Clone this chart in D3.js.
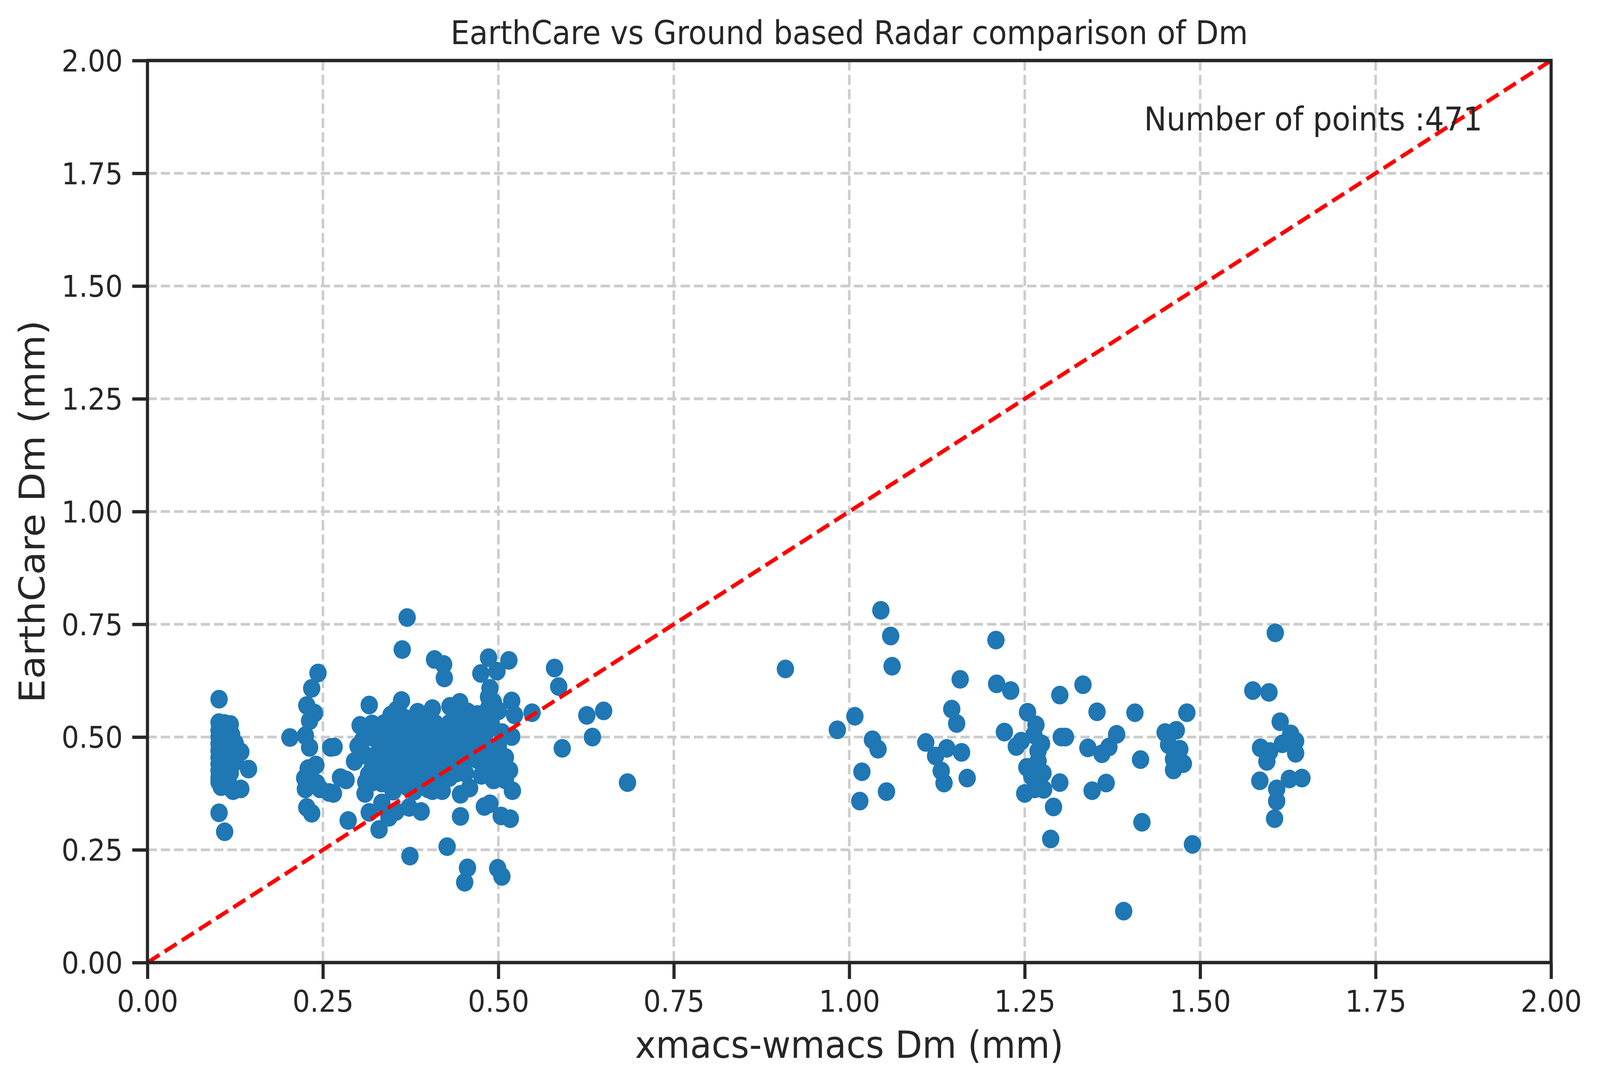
<!DOCTYPE html>
<html>
<head>
<meta charset="utf-8">
<script src="https://cdn.jsdelivr.net/npm/d3@7"></script>
<style>
  html, body { margin: 0; padding: 0; background: #ffffff; width: 100%; height: 100%; overflow: hidden; }
  svg { display: block; width: 100vw; height: 100vh; }
  text { font-family: "DejaVu Sans", sans-serif; fill: #262626; }
</style>
</head>
<body>
<svg id="chart" viewBox="0 0 4416 2776" preserveAspectRatio="none"></svg>
<script>
// ---------------- DATA ----------------
const chartTitle = "EarthCare vs Ground based Radar comparison of Dm";
const xLabel = "xmacs-wmacs Dm (mm)";
const yLabel = "EarthCare Dm (mm)";
const annotation = "Number of points :471";
const xTicks = [0, 0.25, 0.5, 0.75, 1.0, 1.25, 1.5, 1.75, 2.0];
const yTicks = [0, 0.25, 0.5, 0.75, 1.0, 1.25, 1.5, 1.75, 2.0];
const oneToOne = [[0, 0], [2, 2]];

// [xmacs-wmacs Dm, EarthCare Dm] pairs
const clusterLowest = [
  [0.102,0.584],[0.102,0.532],[0.118,0.528],[0.102,0.515],[0.102,0.50],[0.102,0.485],
  [0.102,0.47],[0.102,0.455],[0.102,0.44],[0.102,0.425],[0.102,0.41],[0.102,0.40],
  [0.108,0.52],[0.108,0.49],[0.108,0.46],[0.108,0.43],[0.108,0.395],[0.112,0.51],
  [0.112,0.475],[0.112,0.445],[0.112,0.415],[0.115,0.50],[0.115,0.465],[0.115,0.435],
  [0.115,0.40],[0.118,0.49],[0.118,0.455],[0.118,0.42],[0.12,0.385],[0.122,0.381],
  [0.125,0.486],[0.125,0.445],[0.128,0.47],[0.133,0.467],[0.133,0.385],[0.144,0.429],
  [0.102,0.332],[0.110,0.290],[0.105,0.39],[0.11,0.53],[0.12,0.505],[0.122,0.48],[0.126,0.455]
];
const clusterQuarter = [
  [0.243,0.642],[0.234,0.608],[0.227,0.570],[0.238,0.553],[0.231,0.536],[0.203,0.499],
  [0.225,0.503],[0.231,0.477],[0.261,0.477],[0.240,0.438],[0.229,0.43],[0.224,0.409],
  [0.241,0.398],[0.259,0.377],[0.225,0.385],[0.227,0.344],[0.234,0.331],[0.246,0.385]
];
const clusterThird = [
  [0.370,0.765],[0.363,0.694],[0.362,0.581],[0.316,0.571],[0.303,0.526],[0.320,0.529],
  [0.337,0.53],[0.347,0.549],[0.307,0.494],[0.266,0.478],[0.295,0.446],[0.275,0.410],
  [0.283,0.405],[0.265,0.375],[0.315,0.417],[0.311,0.40],[0.310,0.375],[0.316,0.333],
  [0.286,0.315],[0.330,0.295],[0.334,0.354],[0.344,0.322],[0.354,0.335],[0.374,0.236],
  [0.334,0.398],[0.345,0.398],[0.36,0.40]
];
const clusterFourTenths = [
  [0.409,0.672],[0.422,0.661],[0.423,0.631],[0.475,0.641],[0.406,0.563],[0.392,0.541],
  [0.431,0.568],[0.445,0.577],[0.456,0.556],[0.449,0.525],[0.423,0.494],[0.443,0.50],
  [0.458,0.46],[0.453,0.42],[0.384,0.406],[0.406,0.381],[0.420,0.381],[0.446,0.373],
  [0.459,0.387],[0.373,0.344],[0.390,0.335],[0.446,0.324],[0.427,0.257],[0.456,0.210],
  [0.452,0.178]
];
const clusterHalf = [
  [0.486,0.676],[0.515,0.670],[0.498,0.646],[0.580,0.653],[0.586,0.612],[0.488,0.608],
  [0.486,0.589],[0.493,0.577],[0.519,0.580],[0.486,0.564],[0.500,0.558],[0.523,0.549],
  [0.548,0.554],[0.626,0.548],[0.650,0.558],[0.634,0.500],[0.591,0.475],[0.684,0.399],
  [0.475,0.53],[0.519,0.501],[0.505,0.51],[0.482,0.51],[0.468,0.48],[0.475,0.445],
  [0.510,0.455],[0.516,0.426],[0.476,0.415],[0.493,0.405],[0.51,0.405],[0.520,0.381],
  [0.480,0.346],[0.488,0.352],[0.504,0.325],[0.517,0.319],[0.499,0.209],[0.505,0.191]
];
const clusterDense = [
  [0.32,0.50],[0.33,0.47],[0.33,0.44],[0.34,0.51],[0.34,0.48],[0.34,0.45],[0.34,0.42],
  [0.35,0.53],[0.35,0.50],[0.35,0.47],[0.35,0.44],[0.35,0.41],[0.36,0.55],[0.36,0.52],
  [0.36,0.49],[0.36,0.46],[0.36,0.43],[0.37,0.54],[0.37,0.51],[0.37,0.48],[0.37,0.45],
  [0.37,0.42],[0.37,0.39],[0.38,0.53],[0.38,0.50],[0.38,0.47],[0.38,0.44],[0.38,0.41],
  [0.39,0.52],[0.39,0.49],[0.39,0.46],[0.39,0.43],[0.39,0.40],[0.40,0.54],[0.40,0.51],
  [0.40,0.48],[0.40,0.45],[0.40,0.42],[0.41,0.53],[0.41,0.50],[0.41,0.47],[0.41,0.44],
  [0.41,0.41],[0.42,0.52],[0.42,0.49],[0.42,0.46],[0.42,0.43],[0.43,0.53],[0.43,0.50],
  [0.43,0.47],[0.43,0.44],[0.43,0.41],[0.44,0.55],[0.44,0.48],[0.44,0.45],[0.44,0.42],
  [0.45,0.51],[0.45,0.47],[0.45,0.44],[0.46,0.49],[0.46,0.53],[0.47,0.50],[0.47,0.55],
  [0.47,0.45],[0.48,0.48],[0.48,0.43],[0.49,0.46],[0.49,0.53],[0.50,0.48],[0.50,0.43],
  [0.49,0.42],[0.31,0.46],[0.32,0.43],[0.32,0.40],[0.30,0.48],[0.33,0.52],[0.35,0.38],
  [0.38,0.38],[0.40,0.385],[0.355,0.56],[0.385,0.555]
];
const clusterOne = [
  [1.045,0.781],[1.059,0.724],[1.061,0.657],[0.909,0.651],[1.209,0.715],[1.158,0.628],
  [1.210,0.618],[1.230,0.603],[1.300,0.593],[1.146,0.562],[1.153,0.530],[1.008,0.546],
  [0.983,0.516],[1.254,0.555],[1.266,0.527],[1.221,0.511],[1.263,0.505],[1.302,0.500],
  [1.033,0.494],[1.041,0.473],[1.109,0.488],[1.139,0.475],[1.160,0.466],[1.123,0.458],
  [1.131,0.425],[1.135,0.398],[1.168,0.409],[1.018,0.423],[1.053,0.379],[1.015,0.358],
  [1.245,0.491],[1.238,0.479],[1.274,0.485],[1.269,0.469],[1.269,0.447],[1.253,0.433],
  [1.276,0.420],[1.260,0.413],[1.300,0.399],[1.277,0.384],[1.250,0.375],[1.264,0.385],
  [1.291,0.345],[1.287,0.274]
];
const clusterOneAndHalf = [
  [1.333,0.616],[1.353,0.556],[1.407,0.554],[1.481,0.554],[1.308,0.500],[1.381,0.506],
  [1.340,0.476],[1.370,0.478],[1.360,0.463],[1.415,0.450],[1.450,0.510],[1.466,0.515],
  [1.455,0.483],[1.471,0.473],[1.462,0.451],[1.476,0.441],[1.462,0.427],[1.346,0.381],
  [1.366,0.398],[1.417,0.311],[1.489,0.262],[1.391,0.114]
];
const clusterHighest = [
  [1.607,0.731],[1.575,0.603],[1.598,0.599],[1.614,0.534],[1.629,0.507],[1.636,0.491],
  [1.586,0.476],[1.599,0.468],[1.617,0.485],[1.636,0.464],[1.595,0.446],[1.585,0.403],
  [1.627,0.407],[1.645,0.409],[1.609,0.385],[1.609,0.358],[1.606,0.319]
];
const points = [].concat(clusterLowest, clusterQuarter, clusterThird, clusterFourTenths,
  clusterHalf, clusterDense, clusterOne, clusterOneAndHalf, clusterHighest);

// ---------------- LAYOUT ----------------
const W = 4416, H = 2776;
const plot = { left: 407, right: 4281, top: 155, bottom: 2465 };
const ink = "#262626";
const pt = 6.94; // px per point

const svg = d3.select("#chart");
svg.append("rect").attr("width", W).attr("height", H).attr("fill", "#ffffff");

const x = d3.scaleLinear().domain([0, 2]).range([plot.left, plot.right]);
const y = d3.scaleLinear().domain([0, 2]).range([plot.bottom, plot.top]);

// grid
const grid = svg.append("g");
grid.selectAll("line.gx").data(xTicks).enter().append("line")
  .attr("x1", d => x(d)).attr("x2", d => x(d))
  .attr("y1", plot.top).attr("y2", plot.bottom)
  .attr("stroke", "#cccccc").attr("stroke-width", 1 * pt)
  .attr("stroke-dasharray", `${3.7 * pt},${1.6 * pt}`);
grid.selectAll("line.gy").data(yTicks).enter().append("line")
  .attr("y1", d => y(d)).attr("y2", d => y(d))
  .attr("x1", plot.left).attr("x2", plot.right)
  .attr("stroke", "#cccccc").attr("stroke-width", 1 * pt)
  .attr("stroke-dasharray", `${3.7 * pt},${1.6 * pt}`);

// scatter
svg.append("g").selectAll("circle").data(points).enter().append("circle")
  .attr("cx", d => x(d[0])).attr("cy", d => y(d[1]))
  .attr("r", 24).attr("fill", "#1f77b4");

// 1:1 line
svg.append("path")
  .datum(oneToOne)
  .attr("d", d3.line().x(d => x(d[0])).y(d => y(d[1])))
  .attr("fill", "none").attr("stroke", "#ff0000")
  .attr("stroke-width", 1.5 * pt)
  .attr("stroke-dasharray", `${3.7 * 1.5 * pt},${1.6 * 1.5 * pt}`);

// axes
const fmt = d3.format(".2f");
const xAxis = d3.axisBottom(x).tickValues(xTicks).tickFormat(fmt).tickSize(42).tickPadding(24);
const yAxis = d3.axisLeft(y).tickValues(yTicks).tickFormat(fmt).tickSize(42).tickPadding(26);

const gx = svg.append("g").attr("transform", `translate(0,${plot.bottom})`).call(xAxis);
const gy = svg.append("g").attr("transform", `translate(${plot.left},0)`).call(yAxis);
[gx, gy].forEach(g => {
  g.select(".domain").remove();
  g.selectAll(".tick line").attr("stroke", ink).attr("stroke-width", 1.25 * pt);
  g.selectAll(".tick text").attr("fill", ink)
    .style("font-family", '"DejaVu Sans", sans-serif').style("font-size", "76px");
});
gx.selectAll(".tick text").attr("dy", null).attr("y", 126);
gy.selectAll(".tick text").attr("dy", "0.36em");

// spines
svg.append("rect")
  .attr("x", plot.left).attr("y", plot.top)
  .attr("width", plot.right - plot.left).attr("height", plot.bottom - plot.top)
  .attr("fill", "none").attr("stroke", ink).attr("stroke-width", 1.25 * pt);

// annotation
svg.append("text")
  .attr("x", x(1.42)).attr("y", y(1.845))
  .style("font-size", "83px")
  .text(annotation);

// title
svg.append("text")
  .attr("x", (plot.left + plot.right) / 2).attr("y", 113)
  .attr("text-anchor", "middle").style("font-size", "83px")
  .text(chartTitle);

// axis labels
svg.append("text")
  .attr("x", (plot.left + plot.right) / 2).attr("y", 2709)
  .attr("text-anchor", "middle").style("font-size", "97px")
  .text(xLabel);
svg.append("text")
  .attr("transform", `translate(123,${(plot.top + plot.bottom) / 2}) rotate(-90)`)
  .attr("text-anchor", "middle").style("font-size", "97px")
  .text(yLabel);
</script>
</body>
</html>
